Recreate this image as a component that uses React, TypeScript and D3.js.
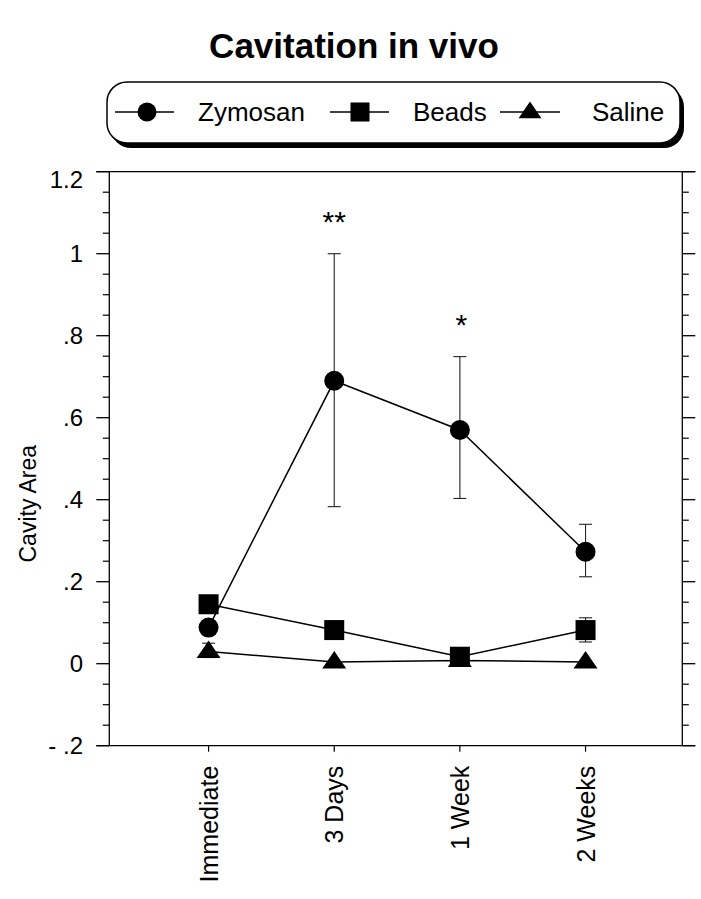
import React from "react";
import * as d3 from "d3";

const categories = ["Immediate", "3 Days", "1 Week", "2 Weeks"];
const zymosan = [0.088, 0.69, 0.57, 0.273];
const zymosanLow = [0.088, 0.383, 0.403, 0.212];
const zymosanHigh = [0.088, 1.0, 0.749, 0.34];
const beads = [0.145, 0.082, 0.017, 0.082];
const beadsLow = [0.145, 0.082, 0.017, 0.053];
const beadsHigh = [0.145, 0.082, 0.017, 0.112];
const saline = [0.03, 0.004, 0.008, 0.004];
const salineLow = [0.015, 0.004, 0.008, 0.004];
const salineHigh = [0.05, 0.004, 0.008, 0.004];
const significance = ["", "**", "*", ""];
const yTickValues = [-0.2, 0, 0.2, 0.4, 0.6, 0.8, 1.0, 1.2];
const yTickLabels = ["- .2", "0", ".2", ".4", ".6", ".8", "1", "1.2"];
const legendNames = ["Zymosan", "Beads", "Saline"];

const FONT = "'Liberation Sans', Arial, Helvetica, sans-serif";

const left = 109.3;
const right = 682.3;
const top = 171.7;
const bottom = 745.7;

const x = d3.scaleLinear().domain([0.21, 4.77]).range([left, right]);
const y = d3.scaleLinear().domain([-0.2, 1.2]).range([bottom, top]);

type Shape = "circle" | "square" | "triangle";

function Marker({ cx, cy, shape, s = 1 }: { cx: number; cy: number; shape: Shape; s?: number }) {
  if (shape === "circle") return <circle cx={cx} cy={cy} r={10 * s} fill="#000" />;
  if (shape === "square")
    return <rect x={cx - 10 * s} y={cy - 10 * s} width={20 * s} height={20 * s} fill="#000" />;
  const p = `M${cx},${cy - 11 * s} L${cx + 12 * s},${cy + 6.5 * s} L${cx - 12 * s},${cy + 6.5 * s} Z`;
  return <path d={p} fill="#000" />;
}

export default function App() {
  const idx = categories.map((_, i) => i + 1);
  const series = [
    { vals: zymosan, lo: zymosanLow, hi: zymosanHigh, shape: "circle" as Shape },
    { vals: beads, lo: beadsLow, hi: beadsHigh, shape: "square" as Shape },
    { vals: saline, lo: salineLow, hi: salineHigh, shape: "triangle" as Shape },
  ];
  const line = d3
    .line<number>()
    .x((_, i) => x(idx[i]))
    .y((d) => y(d));

  const minorTicks = d3.range(-0.2, 1.2001, 0.05).filter(
    (v) => Math.abs(Math.round(v * 5) - v * 5) > 0.01
  );

  const legendItems = [
    { lx1: 115, lx2: 174, mx: 147, tx: 198, shape: "circle" as Shape },
    { lx1: 330, lx2: 389, mx: 360, tx: 413, shape: "square" as Shape },
    { lx1: 500, lx2: 560, mx: 530, tx: 592, shape: "triangle" as Shape },
  ];
  const legY = 112;

  return (
    <svg
      width={701}
      height={899}
      style={{ position: "absolute", left: 0, top: 0, background: "#fff" }}
      fontFamily={FONT}
    >
      <rect x={0} y={0} width={701} height={899} fill="#fff" />
      <text x={354} y={58} textAnchor="middle" fontSize={35} fontWeight="bold" fill="#000">
        Cavitation in vivo
      </text>

      {/* legend */}
      <rect x={111} y={87} width={573} height={61} rx={20} ry={20} fill="#000" />
      <rect x={107} y={82} width={573} height={61} rx={20} ry={20} fill="#fff" stroke="#000" strokeWidth={1.5} />
      {legendItems.map((it, i) => (
        <g key={i}>
          <line x1={it.lx1} x2={it.lx2} y1={legY} y2={legY} stroke="#000" strokeWidth={1.3} />
          <Marker cx={it.mx} cy={legY} shape={it.shape} s={0.95} />
          <text x={it.tx} y={legY} dy="0.36em" fontSize={26} fill="#000">
            {legendNames[i]}
          </text>
        </g>
      ))}

      {/* frame */}
      <line x1={left} x2={left} y1={top} y2={bottom} stroke="#000" strokeWidth={1.3} />
      <line x1={right} x2={right} y1={top} y2={bottom} stroke="#000" strokeWidth={1.3} />
      {yTickValues.map((v, i) => (
        <g key={"yt" + i}>
          <line x1={left - 13} x2={left} y1={y(v)} y2={y(v)} stroke="#000" strokeWidth={1.3} />
          <line x1={right} x2={right + 13} y1={y(v)} y2={y(v)} stroke="#000" strokeWidth={1.3} />
          <text
            x={83}
            y={i === yTickValues.length - 1 ? y(v) + 8 : y(v)}
            dy="0.36em"
            textAnchor="end"
            fontSize={24}
            fill="#000"
          >
            {yTickLabels[i]}
          </text>
        </g>
      ))}
      <line x1={left - 13} x2={right + 13} y1={top} y2={top} stroke="#000" strokeWidth={1.3} />
      <line x1={left - 13} x2={right + 13} y1={bottom} y2={bottom} stroke="#000" strokeWidth={1.3} />
      {minorTicks.map((v, i) => (
        <g key={"mt" + i}>
          <line x1={left - 6.5} x2={left} y1={y(v)} y2={y(v)} stroke="#000" strokeWidth={1.2} />
          <line x1={right} x2={right + 6.5} y1={y(v)} y2={y(v)} stroke="#000" strokeWidth={1.2} />
        </g>
      ))}

      {/* x ticks and labels */}
      {categories.map((c, i) => (
        <g key={"xc" + i}>
          <line x1={x(idx[i])} x2={x(idx[i])} y1={bottom} y2={bottom + 6} stroke="#000" strokeWidth={1.2} />
          <text
            transform={`translate(${x(idx[i])},${bottom + 20}) rotate(-90)`}
            dy="0.36em"
            textAnchor="end"
            fontSize={25}
            fill="#000"
          >
            {c}
          </text>
        </g>
      ))}

      <text
        transform={`translate(28,${(top + bottom) / 2 + 45}) rotate(-90)`}
        textAnchor="middle"
        dy="0.36em"
        fontSize={23}
        fill="#000"
      >
        Cavity Area
      </text>

      {/* lines */}
      {series.map((s, k) => (
        <path key={"l" + k} d={line(s.vals) || ""} fill="none" stroke="#000" strokeWidth={1.5} />
      ))}

      {/* error bars */}
      {series.map((s, k) =>
        s.vals.map((v, i) =>
          s.hi[i] - s.lo[i] > 0.001 ? (
            <g key={"e" + k + "-" + i} stroke="#222" strokeWidth={1.1}>
              <line x1={x(idx[i])} x2={x(idx[i])} y1={y(s.lo[i])} y2={y(s.hi[i])} />
              <line x1={x(idx[i]) - 6.5} x2={x(idx[i]) + 6.5} y1={y(s.lo[i])} y2={y(s.lo[i])} />
              <line x1={x(idx[i]) - 6.5} x2={x(idx[i]) + 6.5} y1={y(s.hi[i])} y2={y(s.hi[i])} />
            </g>
          ) : null
        )
      )}

      {/* markers */}
      {series.map((s, k) =>
        s.vals.map((v, i) => <Marker key={"m" + k + "-" + i} cx={x(idx[i])} cy={y(v)} shape={s.shape} />)
      )}

      {/* significance */}
      {significance.map((t, i) =>
        t ? (
          <text
            key={"s" + i}
            x={x(idx[i]) + (t.length === 1 ? 1.5 : 0)}
            y={y(zymosanHigh[i]) - 43}
            dy="0.7em"
            textAnchor="middle"
            fontSize={30}
            fill="#000"
          >
            {t}
          </text>
        ) : null
      )}
    </svg>
  );
}
